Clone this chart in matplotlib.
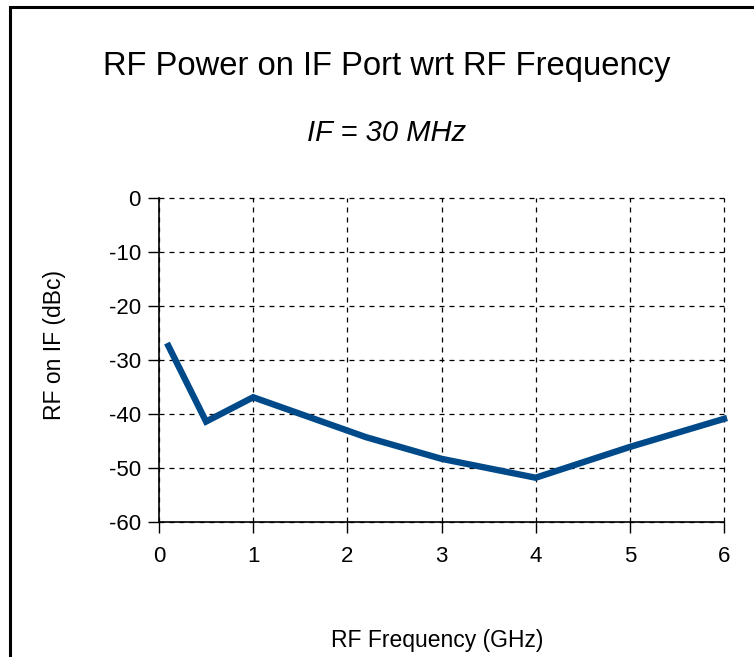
import matplotlib
matplotlib.use("Agg")
import matplotlib.pyplot as plt
from matplotlib.patches import Rectangle

plt.rcParams['font.family'] = ['Liberation Sans', 'DejaVu Sans']
plt.rcParams['axes.unicode_minus'] = False

# RF frequency (GHz) vs RF power on IF port (dBc)
freq_ghz = [0.1, 0.5, 1.0, 2.2, 3.0, 4.0, 5.0, 6.0]
rf_on_if = [-27.4, -41.4, -36.9, -44.3, -48.3, -51.8, -46.1, -40.9]

x_ticks = [0, 1, 2, 3, 4, 5, 6]
y_ticks = [0, -10, -20, -30, -40, -50, -60]

dpi = 100
fig = plt.figure(figsize=(754.0 / dpi, 657.0 / dpi), dpi=dpi)
ax = fig.add_axes([159 / 754, 1 - 522 / 657, (724 - 159) / 754, (522 - 198) / 657])

ax.plot(freq_ghz, rf_on_if, color='#004a8a', lw=4.6, solid_joinstyle='miter',
        clip_on=False, zorder=3)

ax.set_xlim(0, 6)
ax.set_ylim(-60, 0)
ax.set_xticks(x_ticks)
ax.set_yticks(y_ticks)
ax.tick_params(direction='out', length=8, width=1, labelsize=16)
ax.tick_params(axis='x', pad=9)
ax.tick_params(axis='y', pad=5)
ax.grid(True, color='black', linestyle=(0, (4, 4)), linewidth=0.9)
for gl in ax.get_xgridlines() + ax.get_ygridlines():
    gl.set_clip_on(False)
ax.spines['top'].set_visible(False)
ax.spines['right'].set_visible(False)
for s in ('left', 'bottom'):
    ax.spines[s].set_linewidth(1.2)

fig.text(55 / 754, 1 - 345 / 657, 'RF on IF (dBc)', fontsize=16.5,
         rotation=90, ha='center', va='center')
fig.text(437 / 754, 1 - 640 / 657, 'RF Frequency (GHz)', fontsize=16.5,
         ha='center', va='center')

fig.text(387 / 754, 1 - 66 / 657, 'RF Power on IF Port wrt RF Frequency',
         fontsize=23.6, ha='center', va='center')
fig.text(387 / 754, 1 - 133 / 657, 'IF = 30 MHz', fontsize=21,
         style='italic', ha='center', va='center')

# frame around the chart (runs off right and bottom edges)
fig.add_artist(Rectangle((10 / 754, -0.1), 2, 1 - 7 / 657 + 0.1,
                         transform=fig.transFigure, fill=False,
                         lw=2.2, edgecolor='black'))

plt.savefig('out.png', dpi=dpi)
